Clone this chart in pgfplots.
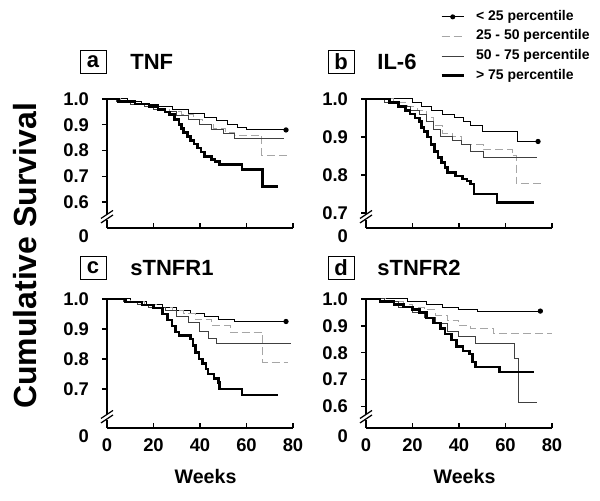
\documentclass[border=0pt]{standalone}
\usepackage{fontspec}
\setmainfont{Liberation Sans}
\usepackage{pgfplots}
\pgfplotsset{compat=1.18}

\pgfplotsset{
  km/.style={
    scale only axis, width=93pt, height=64.5pt,
    xmin=0, xmax=80, ymax=1.0,
    axis x line*=bottom, axis y line*=left,
    axis line style={line width=0.9pt},
    clip=false,
    xtick={0,20,40,60,80},
    ytick align=outside, xtick align=inside,
    major tick length=2.5pt,
    every tick/.style={black, line width=0.7pt},
    /pgf/number format/assume math mode=true,
    yticklabel style={/pgf/number format/fixed, /pgf/number format/fixed zerofill, /pgf/number format/precision=1, font=\bfseries\fontsize{9.2}{10}\selectfont, xshift=-3pt},
    xticklabel style={font=\bfseries\fontsize{9.2}{10}\selectfont, yshift=-2pt},
    xlabel style={font=\bfseries\fontsize{9.8}{11}\selectfont, at={(axis description cs:0.53,0)}, anchor=center, yshift=-24.5pt},
    extra y tick labels={0},
    extra y tick style={major tick length=0pt, yticklabel style={yshift=-4pt, xshift=-2.5pt}},
    every axis plot/.append style={const plot},
    legend image code/.code={\draw[mark repeat=2,mark phase=2,#1] plot coordinates {(0pt,0pt) (5.5pt,0pt) (11pt,0pt)};},
  },
  s25/.style={black, line width=0.5pt, mark=none},
  s50/.style={gray!70, line width=0.5pt, dash pattern=on 4pt off 2pt, mark=none},
  s75/.style={black!75, line width=0.5pt, mark=none},
  s100/.style={black, line width=1.3pt, mark=none},
  enddot/.style={only marks, mark=*, mark size=1.1pt, black, forget plot},
}

\newcommand{\axisbreak}{%
  \draw[white,line width=3pt] (axis description cs:0,0.065) -- (axis description cs:0,0.11);
  \draw[line width=0.6pt] (axis description cs:0,0.07) ++(-3pt,-2pt) -- ++(6pt,4pt);
  \draw[line width=0.6pt] (axis description cs:0,0.105) ++(-3pt,-2pt) -- ++(6pt,4pt);
}

\begin{document}
\begin{tikzpicture}
\useasboundingbox (0,0) rectangle (300pt,250.5pt);

% ---------- a: TNF ----------
\begin{axis}[km, at={(53.5pt,136.5pt)}, anchor=south west,
  ymin=0.5, ytick={0.6,0.7,0.8,0.9,1.0}, extra y ticks={0.5}, xticklabels={}]
\addplot[s25] coordinates {(0,1) (9,0.99) (15,0.98) (22,0.97) (28,0.96) (35,0.945) (42,0.93) (47,0.915) (52,0.90) (56,0.89) (60,0.88) (77,0.88)};
\addplot[s50] coordinates {(0,1) (6,0.99) (12,0.98) (17,0.97) (22,0.96) (27,0.95) (32,0.94) (37,0.92) (41,0.90) (46,0.885) (51,0.87) (55,0.86) (66.5,0.782) (78,0.782)};
\addplot[s75] coordinates {(0,1) (4,0.99) (10,0.98) (16,0.97) (20,0.96) (25,0.95) (30,0.935) (35,0.92) (40,0.90) (45,0.88) (50,0.865) (55,0.847) (76,0.847)};
\addplot[s100] coordinates {(0,1) (5,0.99) (12,0.98) (18,0.97) (22,0.96) (25,0.95) (27,0.94) (29,0.92) (31,0.90) (32,0.886) (33,0.87) (34.5,0.855) (36,0.84) (37.5,0.825) (39,0.81) (40.5,0.795) (42,0.776) (45,0.765) (46.5,0.757) (48.5,0.746) (58,0.727) (67,0.66) (73.7,0.66)};
\addplot[enddot] coordinates {(77,0.88)};
\axisbreak
\end{axis}

% ---------- b: IL-6 ----------
\begin{axis}[km, at={(183pt,136.5pt)}, anchor=south west,
  ymin=0.66, ytick={0.7,0.8,0.9,1.0}, extra y ticks={0.66}, xticklabels={},
  legend style={at={(axis description cs:0.398,1.69)}, anchor=north west, draw=none, fill=none, inner sep=0pt,
    font=\bfseries\fontsize{7}{8}\selectfont, row sep=3.3pt, column sep=5.5pt,
    nodes={inner sep=0pt, text height=5pt, text depth=1.5pt}},
  legend cell align=left]
\addlegendimage{s25, mark=*, mark size=1pt}
\addlegendentry{< 25 percentile}
\addlegendimage{s50}
\addlegendentry{25 - 50 percentile}
\addlegendimage{s75}
\addlegendentry{50 - 75 percentile}
\addlegendimage{s100}
\addlegendentry{> 75 percentile}
\addplot[s25, forget plot] coordinates {(0,1) (20,0.99) (24,0.98) (28,0.97) (33,0.96) (38,0.95) (42,0.94) (45,0.93) (50,0.915) (65,0.888) (74,0.888)};
\addplot[s50, forget plot] coordinates {(0,1) (12,0.99) (18,0.98) (22,0.97) (26,0.95) (29,0.93) (33,0.91) (37,0.90) (41,0.88) (50.5,0.866) (63,0.85) (64.7,0.776) (76.6,0.776)};
\addplot[s75, forget plot] coordinates {(0,1) (8,0.99) (14,0.98) (19,0.97) (23,0.96) (26,0.94) (29,0.92) (32,0.90) (37,0.89) (41,0.88) (45,0.862) (50.5,0.846) (73.7,0.846)};
\addplot[s100, forget plot] coordinates {(0,1) (10,0.99) (14,0.98) (17,0.97) (19,0.96) (21,0.95) (23,0.94) (24,0.925) (25,0.914) (26.5,0.90) (28,0.88) (29.5,0.862) (31,0.845) (32.5,0.832) (34,0.82) (35,0.806) (38.5,0.797) (41.5,0.789) (43.5,0.784) (45,0.776) (46.5,0.75) (56.3,0.727) (72.4,0.727)};
\addplot[enddot] coordinates {(74,0.888)};
\axisbreak
\end{axis}

% ---------- c: sTNFR1 ----------
\begin{axis}[km, at={(53.5pt,36.5pt)}, anchor=south west,
  ymin=0.57, ytick={0.7,0.8,0.9,1.0}, extra y ticks={0.57}, xlabel={Weeks}]
\addplot[s25] coordinates {(0,1) (10,0.99) (17,0.98) (24,0.97) (30,0.96) (36,0.95) (42,0.94) (48,0.93) (55,0.925) (77,0.925)};
\addplot[s50] coordinates {(0,1) (10,0.99) (16,0.98) (22,0.97) (28,0.96) (33,0.95) (38,0.93) (45,0.91) (53,0.889) (67,0.789) (78,0.789)};
\addplot[s75] coordinates {(0,1) (7,0.99) (13,0.98) (18,0.97) (25,0.96) (30,0.94) (35,0.92) (40,0.89) (43.5,0.867) (47,0.85) (79,0.85)};
\addplot[s100] coordinates {(0,1) (8,0.99) (15,0.98) (20,0.97) (24,0.95) (26,0.93) (28,0.91) (29.5,0.89) (31,0.878) (36,0.867) (37,0.845) (38,0.822) (39.5,0.80) (41,0.785) (42.6,0.767) (43.4,0.75) (46,0.735) (48,0.722) (48.5,0.70) (58,0.68) (73.4,0.68)};
\addplot[enddot] coordinates {(77,0.925)};
\axisbreak
\end{axis}

% ---------- d: sTNFR2 ----------
\begin{axis}[km, at={(183pt,36.5pt)}, anchor=south west,
  ymin=0.52, ytick={0.6,0.7,0.8,0.9,1.0}, extra y ticks={0.52}, xlabel={Weeks}]
\addplot[s25] coordinates {(0,1) (18,0.99) (26,0.98) (33,0.97) (40,0.96) (48,0.955) (75,0.955)};
\addplot[s50] coordinates {(0,1) (10,0.99) (16,0.98) (20,0.97) (25,0.96) (30,0.94) (35,0.92) (40,0.90) (45,0.89) (55,0.87) (80,0.87)};
\addplot[s75] coordinates {(0,1) (8,0.99) (14,0.97) (20,0.95) (25,0.93) (30,0.91) (35,0.88) (40,0.86) (47,0.833) (64,0.78) (65.5,0.615) (73.6,0.615)};
\addplot[s100] coordinates {(0,1) (6,0.99) (12,0.98) (16,0.97) (20,0.96) (23,0.95) (26,0.93) (29,0.91) (32,0.89) (34,0.87) (36.7,0.848) (38.8,0.824) (41.7,0.806) (44.5,0.796) (45.9,0.765) (47,0.747) (57.3,0.728) (72.2,0.728)};
\addplot[enddot] coordinates {(75,0.955)};
\axisbreak
\end{axis}

% ---------- panel headers and common label ----------
\begin{scope}[every node/.style={font=\bfseries\fontsize{11}{12}\selectfont}]
\node[draw, line width=0.5pt, minimum width=13pt, minimum height=11.5pt, inner sep=0pt] at (46.5pt,219.5pt) {a};
\node[anchor=west, inner sep=0pt] at (65pt,219.5pt) {TNF};
\node[draw, line width=0.5pt, minimum width=13pt, minimum height=11.5pt, inner sep=0pt] at (170.5pt,219.5pt) {b};
\node[anchor=west, inner sep=0pt] at (188.5pt,219.5pt) {IL-6};
\node[draw, line width=0.5pt, minimum width=13pt, minimum height=11.5pt, inner sep=0pt] at (46.5pt,116.5pt) {c};
\node[anchor=west, inner sep=0pt] at (65pt,116.5pt) {sTNFR1};
\node[draw, line width=0.5pt, minimum width=13pt, minimum height=11.5pt, inner sep=0pt] at (170.5pt,116.5pt) {d};
\node[anchor=west, inner sep=0pt] at (188.5pt,116.5pt) {sTNFR2};
\end{scope}
\node[rotate=90, font=\bfseries\fontsize{16}{18}\selectfont, inner sep=0pt] at (12.5pt,122.5pt) {Cumulative Survival};
\end{tikzpicture}
\end{document}
